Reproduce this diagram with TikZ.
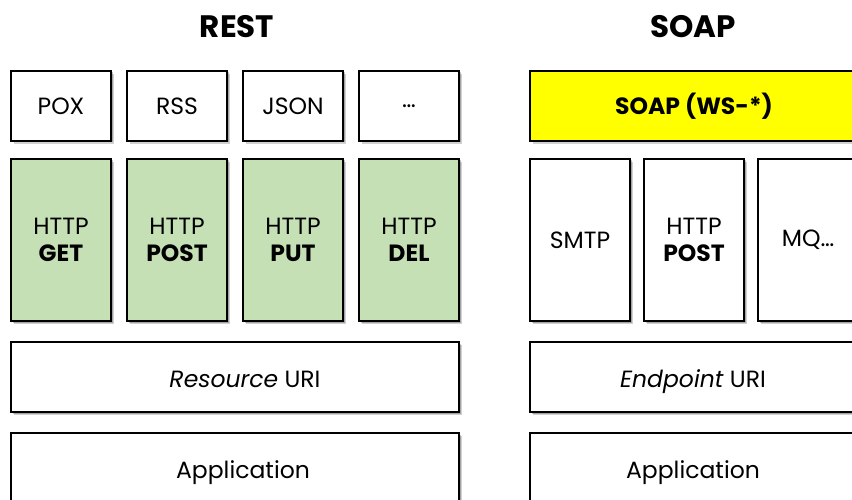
\documentclass[tikz,border=0pt]{standalone}
\usepackage{fontspec}
\setmainfont{Poppins}
\usetikzlibrary{shadows}
\definecolor{restgreen}{HTML}{C5E0B4}
\definecolor{soapyellow}{HTML}{FFFF00}
\tikzset{
  layerbox/.style={draw=black, line width=2.5pt, fill=white, inner sep=0pt,
    drop shadow={shadow xshift=3pt, shadow yshift=-3pt, opacity=0.18, fill=black},
    drop shadow={shadow xshift=1.5pt, shadow yshift=-1.5pt, opacity=0.22, fill=black}},
  greenbox/.style={layerbox, fill=restgreen},
  yellowbox/.style={layerbox, fill=soapyellow},
  boxtext/.style={inner sep=0pt, align=center, font=\fontsize{23.5}{27}\selectfont},
  basetext/.style={inner sep=0pt, anchor=base, font=\fontsize{23.5}{27}\selectfont},
  titletext/.style={inner sep=0pt, anchor=base, font=\fontsize{31}{34}\selectfont\bfseries},
}
\begin{document}
\begin{tikzpicture}[x=1pt,y=-1pt]
\useasboundingbox (0,0) rectangle (852,500);
\clip (0,0) rectangle (852,500);

% titles
\node[titletext] (tRest) at (237,38) {REST};
\node[titletext] (tSoap) at (693,38) {SOAP};

% REST row 1
\node[layerbox, boxtext, minimum width=100pt, minimum height=70pt] (pox)  at (61,106)  {POX};
\node[layerbox, boxtext, minimum width=100pt, minimum height=70pt] (rss)  at (177,106) {RSS};
\node[layerbox, boxtext, minimum width=100pt, minimum height=70pt] (json) at (293,106) {JSON};
\node[layerbox, boxtext, minimum width=100pt, minimum height=70pt] (etc)  at (409,106) {\dots};

% REST row 2
\node[greenbox, boxtext, minimum width=100pt, minimum height=162pt] (get)  at (61,240)  {HTTP\\\textbf{GET}};
\node[greenbox, boxtext, minimum width=100pt, minimum height=162pt] (post) at (177,240) {HTTP\\\textbf{POST}};
\node[greenbox, boxtext, minimum width=100pt, minimum height=162pt] (put)  at (293,240) {HTTP\\\textbf{PUT}};
\node[greenbox, boxtext, minimum width=100pt, minimum height=162pt] (del)  at (409,240) {HTTP\\\textbf{DEL}};

% REST rows 3,4
\node[layerbox, minimum width=448pt, minimum height=70pt] (resuri) at (235,377) {};
\node[basetext] (resuriT) at (245,387) {\textit{Resource} URI};
\node[layerbox, minimum width=448pt, minimum height=90pt] (resapp) at (235,478) {};
\node[basetext] (resappT) at (243,478) {Application};

% SOAP row 1
\node[yellowbox, minimum width=340pt, minimum height=70pt] (ws) at (700,106) {};
\node[basetext, font=\fontsize{23.5}{27}\selectfont\bfseries] (wsT) at (694,115) {SOAP (WS-*)};

% SOAP row 2
\node[layerbox, boxtext, minimum width=100pt, minimum height=162pt] (smtp)  at (580,240) {SMTP};
\node[layerbox, boxtext, minimum width=100pt, minimum height=162pt] (spost) at (694,240) {HTTP\\\textbf{POST}};
\node[layerbox, boxtext, minimum width=100pt, minimum height=162pt] (mq)    at (808,240) {MQ\dots};

% SOAP rows 3,4
\node[layerbox, minimum width=340pt, minimum height=70pt] (epuri) at (700,377) {};
\node[basetext] (epuriT) at (693,387) {\textit{Endpoint} URI};
\node[layerbox, minimum width=340pt, minimum height=90pt] (soapapp) at (700,478) {};
\node[basetext] (soapappT) at (693,478) {Application};
\end{tikzpicture}
\end{document}
